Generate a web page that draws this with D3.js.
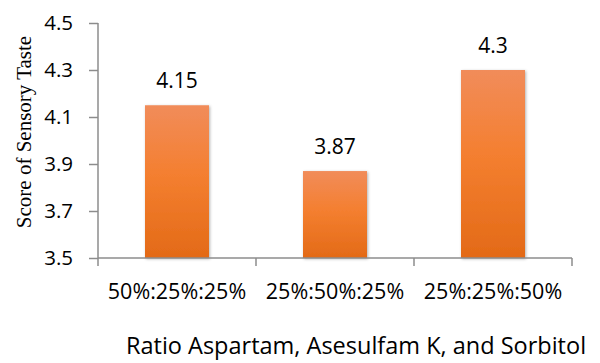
<!DOCTYPE html>
<meta charset="utf-8">
<title>Sensory taste</title>
<body>
<script src="https://cdn.jsdelivr.net/npm/d3@7"></script>
<style>
html, body {
    margin: 0;
    background: #fff;
}
svg {
    display: block;
}
.axis path, .axis line {
    stroke: #8c8c8c;
    stroke-width: 1.5;
}
.axis text {
    font-family: "Open Sans", sans-serif;
    font-size: 20.5px;
    fill: #000;
}
</style>
<svg></svg>
<script>
var ratios = ["50%:25%:25%", "25%:50%:25%", "25%:25%:50%"],
    scores = [4.15, 3.87, 4.3],
    yTicks = [3.5, 3.7, 3.9, 4.1, 4.3, 4.5];

var width = 600,
    height = 363,
    plotLeft = 98,
    plotRight = 572,
    plotTop = 23,
    plotBottom = 258;

var svg = d3.select("svg")
    .attr("width", width)
    .attr("height", height);

var defs = svg.append("defs");

var grad = defs.append("linearGradient")
    .attr("id", "bar")
    .attr("x1", 0).attr("x2", 0)
    .attr("y1", 0).attr("y2", 1);
grad.append("stop").attr("offset", "0%").attr("stop-color", "#f18c5a");
grad.append("stop").attr("offset", "45%").attr("stop-color", "#f47f30");
grad.append("stop").attr("offset", "100%").attr("stop-color", "#e36a17");

var shadow = defs.append("filter")
    .attr("id", "shadow")
    .attr("x", "-20%").attr("y", "-10%")
    .attr("width", "140%").attr("height", "120%");
shadow.append("feDropShadow")
    .attr("dx", 1).attr("dy", 1)
    .attr("stdDeviation", 1.5)
    .attr("flood-color", "#000")
    .attr("flood-opacity", 0.3);

var x = d3.scaleBand()
    .domain(ratios)
    .range([plotLeft, plotRight])
    .paddingInner(0.595)
    .paddingOuter(0.2975);

var xTick = d3.scaleBand()
    .domain(ratios)
    .range([plotLeft, plotRight]);

var y = d3.scaleLinear()
    .domain([3.5, 4.5])
    .range([plotBottom, plotTop]);

svg.selectAll("rect.bar")
    .data(scores)
    .enter().append("rect")
    .attr("class", "bar")
    .attr("x", function(d, i) { return x(ratios[i]); })
    .attr("y", function(d) { return y(d); })
    .attr("width", x.bandwidth())
    .attr("height", function(d) { return plotBottom - y(d); })
    .attr("fill", "url(#bar)")
    .attr("filter", "url(#shadow)");

svg.selectAll("text.value")
    .data(scores)
    .enter().append("text")
    .attr("class", "value")
    .attr("x", function(d, i) { return x(ratios[i]) + x.bandwidth() / 2; })
    .attr("y", function(d) { return y(d) - 17; })
    .attr("text-anchor", "middle")
    .style("font-family", "'Open Sans', sans-serif")
    .style("font-size", "21px")
    .text(function(d) { return d; });

// y axis
var yAxis = svg.append("g")
    .attr("class", "axis")
    .attr("transform", "translate(" + plotLeft + ",0)")
    .call(d3.axisLeft(y).tickValues(yTicks).tickSize(9).tickSizeOuter(0).tickPadding(16)
        .tickFormat(d3.format(".1f")));
yAxis.select(".domain").attr("d", "M0," + plotTop + "V" + plotBottom);

// x axis, with ticks at band edges
var xAxis = svg.append("g")
    .attr("class", "axis")
    .attr("transform", "translate(0," + plotBottom + ")");
xAxis.append("line")
    .attr("x1", plotLeft).attr("x2", plotRight);
xAxis.selectAll("line.edge")
    .data(ratios.concat([null]))
    .enter().append("line")
    .attr("class", "edge")
    .attr("x1", function(d, i) { return plotLeft + i * xTick.step(); })
    .attr("x2", function(d, i) { return plotLeft + i * xTick.step(); })
    .attr("y1", 0).attr("y2", 8);
xAxis.selectAll("text")
    .data(ratios)
    .enter().append("text")
    .attr("x", function(d) { return xTick(d) + xTick.bandwidth() / 2; })
    .attr("y", 41)
    .attr("text-anchor", "middle")
    .style("font-size", "21.5px")
    .text(function(d) { return d; });

svg.append("text")
    .attr("x", 356)
    .attr("y", 354)
    .attr("text-anchor", "middle")
    .style("font-family", "'Open Sans', sans-serif")
    .style("font-size", "23.5px")
    .text("Ratio Aspartam, Asesulfam K, and Sorbitol");

svg.append("text")
    .attr("transform", "translate(31,132)rotate(-90)")
    .attr("text-anchor", "middle")
    .style("font-family", "'Liberation Serif', 'Times New Roman', serif")
    .style("font-size", "21px")
    .text("Score of Sensory Taste");
</script>
